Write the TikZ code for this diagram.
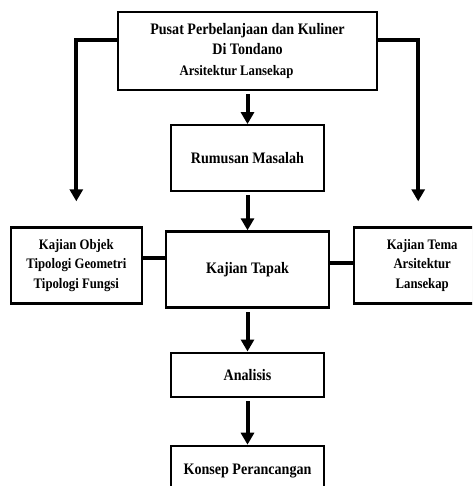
\documentclass[tikz,border=0pt]{standalone}
\usepackage{fontspec}
\setmainfont[FakeStretch=0.88]{Liberation Serif}
\usetikzlibrary{arrows.meta,positioning,shadows}
\tikzset{
    %Define standard arrow tip
    >={Triangle[length=12pt,width=13pt]},
    kotak/.style={
      rectangle,
      draw=black, line width=2.2pt,
      fill=white,
      font=\fontsize{16}{20}\selectfont\bfseries,
      align=center,
      drop shadow={shadow xshift=1.2pt,shadow yshift=-1.2pt,opacity=.3}},
    samping/.style={
      kotak,
      font=\fontsize{14.5}{19.5}\selectfont\bfseries,
      minimum height=76pt},
    panah/.style={
      ->, line width=4pt, shorten >=3pt},
    garis/.style={
      line width=4pt},
}

\begin{document}
\begin{tikzpicture}[x=1pt,y=1pt,node distance=35pt]
    \clip (0,0) rectangle (472,-486);
    \node (pusat) [kotak, minimum width=259pt, minimum height=78pt] at (247.5,-51)
          {Pusat Perbelanjaan dan Kuliner\\Di Tondano\\[1pt]
           {\fontsize{14.5}{15}\selectfont Arsitektur Lansekap}\hspace*{22pt}};
    \node (rumusan) [kotak, minimum width=153pt, minimum height=66pt] [below=33pt of pusat]
          {Rumusan Masalah}
          edge [panah, <-] (pusat);
    \node (tapak) [kotak, minimum width=163pt, minimum height=76pt] [below=38pt of rumusan]
          {Kajian Tapak}
          edge [panah, <-] (rumusan);
    \node (objek) [samping, minimum width=131pt] [left=22pt of tapak, yshift=4pt]
          {Kajian Objek\\Tipologi Geometri\\Tipologi Fungsi};
    \node (tema) [samping, minimum width=136pt] [right=23pt of tapak, yshift=4pt]
          {Kajian Tema\\Arsitektur\\Lansekap};
    \node (analisis) [kotak, minimum width=153pt, minimum height=44pt] [below=43pt of tapak]
          {Analisis}
          edge [panah, <-] (tapak);
    \node (konsep) [kotak, minimum width=153pt, minimum height=50pt] [below=47pt of analisis]
          {Konsep Perancangan}
          edge [panah, <-] (analisis);
    % cabang kiri dan kanan
    \coordinate (kiri) at ([yshift=22pt]objek.north);
    \coordinate (kanan) at ([xshift=-4pt,yshift=22pt]tema.north);
    \draw [panah] ([yshift=11pt]pusat.west) -| (kiri);
    \draw [panah] ([yshift=11pt]pusat.east) -| (kanan);
    \draw [garis] ([yshift=7pt]objek.east) -- ([yshift=7pt]objek.east -| tapak.west);
    \draw [garis] ([yshift=2pt]tema.west) -- ([yshift=2pt]tema.west -| tapak.east);
\end{tikzpicture}
\end{document}
